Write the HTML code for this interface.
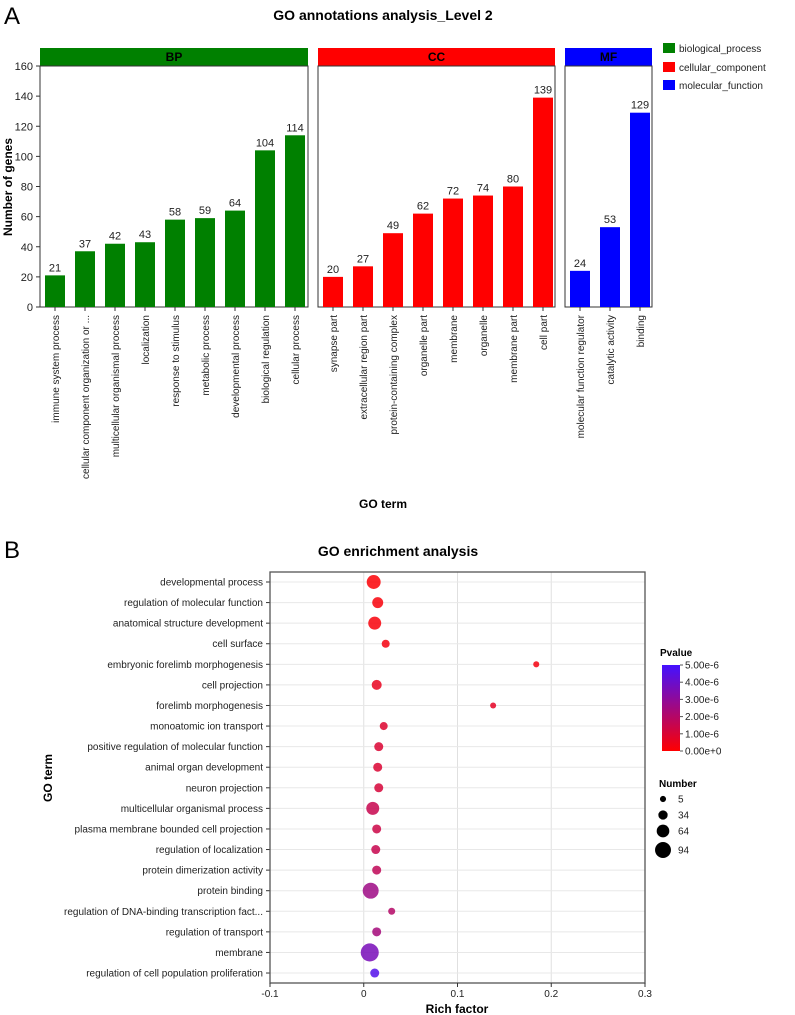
<!DOCTYPE html>
<html><head><meta charset="utf-8"><style>
html,body{margin:0;padding:0;background:#fff;}
svg{display:block;font-family:"Liberation Sans",Arial,sans-serif;}
</style></head><body>
<svg id="svg" width="795" height="1015" viewBox="0 0 795 1015">
<text x="4" y="24" font-size="24">A</text>
<text x="383" y="20" font-size="14" font-weight="bold" text-anchor="middle">GO annotations analysis_Level 2</text>
<text x="383" y="508" font-size="12" font-weight="bold" text-anchor="middle">GO term</text>
<text transform="translate(12,187) rotate(-90)" font-size="12" font-weight="bold" text-anchor="middle">Number of genes</text>
<text x="4" y="558" font-size="24">B</text>
<text x="398" y="556" font-size="14" font-weight="bold" text-anchor="middle">GO enrichment analysis</text>
<text x="457" y="1013" font-size="12" font-weight="bold" text-anchor="middle">Rich factor</text>
<text transform="translate(52,778) rotate(-90)" font-size="12" font-weight="bold" text-anchor="middle">GO term</text>
<g id="a"></g><g id="b"></g>
</svg>
<script>
const bpTerms=["immune system process","cellular component organization or ...","multicellular organismal process","localization","response to stimulus","metabolic process","developmental process","biological regulation","cellular process"];
const bpValues=[21,37,42,43,58,59,64,104,114];
const ccTerms=["synapse part","extracellular region part","protein-containing complex","organelle part","membrane","organelle","membrane part","cell part"];
const ccValues=[20,27,49,62,72,74,80,139];
const mfTerms=["molecular function regulator","catalytic activity","binding"];
const mfValues=[24,53,129];
const yTicksA=[0,20,40,60,80,100,120,140,160];

const enrichTerms=["developmental process","regulation of molecular function","anatomical structure development","cell surface","embryonic forelimb morphogenesis","cell projection","forelimb morphogenesis","monoatomic ion transport","positive regulation of molecular function","animal organ development","neuron projection","multicellular organismal process","plasma membrane bounded cell projection","regulation of localization","protein dimerization activity","protein binding","regulation of DNA-binding transcription fact...","regulation of transport","membrane","regulation of cell population proliferation"];
const richFactor=[0.0106,0.0149,0.0117,0.0234,0.184,0.0138,0.138,0.0213,0.0160,0.0149,0.0160,0.0096,0.0138,0.0128,0.0138,0.0074,0.0298,0.0138,0.0064,0.0117];
const geneNumber=[76,49,67,22,4,40,4,22,31,31,31,67,31,31,31,94,13,31,113,31];
const pValues=[0.1e-6,0.2e-6,0.2e-6,0.3e-6,0.3e-6,0.6e-6,0.7e-6,0.9e-6,1.0e-6,1.0e-6,1.1e-6,1.5e-6,1.4e-6,1.5e-6,1.7e-6,2.6e-6,2.0e-6,2.4e-6,3.6e-6,4.6e-6];
const xTicksB=[-0.1,0,0.1,0.2,0.3];
const pTicks=[0,1e-6,2e-6,3e-6,4e-6,5e-6];
const pTickLabels=["0.00e+0","1.00e-6","2.00e-6","3.00e-6","4.00e-6","5.00e-6"];
const sizeLegend=[5,34,64,94];

const NS="http://www.w3.org/2000/svg";
function mk(parent,tag,attrs,text){const e=document.createElementNS(NS,tag);for(const k in attrs)e.setAttribute(k,attrs[k]);if(text!==undefined)e.textContent=text;parent.appendChild(e);return e;}
const A=document.getElementById('a'),B=document.getElementById('b');

// Chart A
const y0=307,y1=66;
const yA=v=>y0-(v/160)*(y0-y1);
const ax=mk(A,'line',{x1:40,y1:y1,x2:40,y2:y0,stroke:'#333'});

yTicksA.forEach(t=>{
 mk(A,'line',{x1:36,x2:40,y1:yA(t),y2:yA(t),stroke:'#333'});
 const tl=mk(A,'text',{x:33,y:yA(t)+4,'font-size':11,'text-anchor':'end',fill:'#222'},t);
 
});
const panels=[
 {name:'BP',terms:bpTerms,vals:bpValues,x:40,w:268,color:'#008000'},
 {name:'CC',terms:ccTerms,vals:ccValues,x:318,w:237,color:'#ff0000'},
 {name:'MF',terms:mfTerms,vals:mfValues,x:565,w:87,color:'#0000ff'}];
panels.forEach(p=>{
 const s=mk(A,'rect',{x:p.x,y:48,width:p.w,height:18,fill:p.color});
 
 const st=mk(A,'text',{x:p.x+p.w/2,y:61,'font-size':12,'font-weight':'bold','text-anchor':'middle'},p.name);
 
 mk(A,'rect',{x:p.x,y:y1,width:p.w,height:y0-y1,fill:'none',stroke:'#333'});
 p.vals.forEach((v,i)=>{
  const cx=p.x+15+i*30;
  const r=mk(A,'rect',{x:cx-10,y:yA(v),width:20,height:y0-yA(v),fill:p.color});
  
  const vl=mk(A,'text',{x:cx,y:yA(v)-4,'font-size':11,'text-anchor':'middle',fill:'#222'},v);
  
  mk(A,'line',{x1:cx,x2:cx,y1:y0,y2:y0+4,stroke:'#333'});
  const tl=mk(A,'text',{transform:`translate(${cx+4},${y0+8}) rotate(-90)`,'font-size':10,'text-anchor':'end',fill:'#222'},p.terms[i]);
  
 });
});
[['biological_process','#008000',52],['cellular_component','#ff0000',71],['molecular_function','#0000ff',89]].forEach(l=>{
 const g=mk(A,'g',{});
 
 mk(g,'rect',{x:663,y:l[2]-9,width:12,height:10,fill:l[1]});
 mk(g,'text',{x:679,y:l[2],'font-size':10,fill:'#222'},l[0]);
});

// Chart B
const L=270,R=645,T=572,Bt=983;
const xB=v=>L+(v+0.1)/0.4*(R-L);
const step=20.58,rowY=i=>582+i*step;
const rad=n=>2.8+n*0.055;
function pColor(p){const t=Math.min(1,p/5e-6);const r=Math.round(255*(1-t)+68*t),g=Math.round(0*(1-t)+17*t),b=Math.round(0*(1-t)+255*t);return `rgb(${r},${g},${b})`;}
xTicksB.forEach(t=>{mk(B,'line',{x1:xB(t),x2:xB(t),y1:T,y2:Bt,stroke:'#e0e0e0'});});
enrichTerms.forEach((term,i)=>{
 mk(B,'line',{x1:L,x2:R,y1:rowY(i),y2:rowY(i),stroke:'#e8e8e8'});
 mk(B,'line',{x1:L-4,x2:L,y1:rowY(i),y2:rowY(i),stroke:'#333'});
 const tl=mk(B,'text',{x:L-7,y:rowY(i)+3.5,'font-size':10,'text-anchor':'end',fill:'#222'},term);
 
});
mk(B,'rect',{x:L,y:T,width:R-L,height:Bt-T,fill:'none',stroke:'#555','stroke-width':1.3});
xTicksB.forEach(t=>{
 mk(B,'line',{x1:xB(t),x2:xB(t),y1:Bt,y2:Bt+4,stroke:'#333'});
 const tl=mk(B,'text',{x:xB(t),y:Bt+14,'font-size':10,'text-anchor':'middle',fill:'#222'},t);
 
});
enrichTerms.forEach((term,i)=>{
 const c=mk(B,'circle',{cx:xB(richFactor[i]),cy:rowY(i),r:rad(geneNumber[i]),fill:pColor(pValues[i]),'fill-opacity':0.85});
 
});
// Pvalue legend
const defs=mk(B,'defs',{});
const lg=mk(defs,'linearGradient',{id:'pg',x1:0,y1:1,x2:0,y2:0});
mk(lg,'stop',{offset:0,'stop-color':pColor(0)});mk(lg,'stop',{offset:1,'stop-color':pColor(5e-6)});
const pt=mk(B,'text',{x:660,y:656,'font-size':10,'font-weight':'bold'},'Pvalue');

const pY=p=>751-p/5e-6*86;
const cb=mk(B,'rect',{x:662,y:pY(5e-6),width:18,height:86,fill:'url(#pg)'});

pTicks.forEach((p,i)=>{
 mk(B,'line',{x1:680,x2:683,y1:pY(p),y2:pY(p),stroke:'#555'});
 mk(B,'text',{x:685,y:pY(p)+3.5,'font-size':10,fill:'#222'},pTickLabels[i]);
});
const nt=mk(B,'text',{x:659,y:787,'font-size':10,'font-weight':'bold'},'Number');

const ly=[799,815,831,850];
sizeLegend.forEach((n,i)=>{
 const g=mk(B,'g',{});
 
 mk(g,'circle',{cx:663,cy:ly[i],r:rad(n),fill:'#000'});
 mk(g,'text',{x:678,y:ly[i]+3.5,'font-size':10,fill:'#222'},n);
});
</script>
</body></html>
